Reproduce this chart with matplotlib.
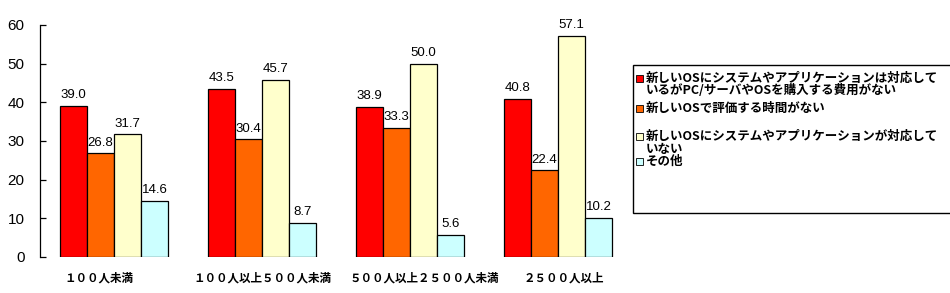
import matplotlib
matplotlib.use("Agg")
import matplotlib.pyplot as plt
import numpy as np
from matplotlib.patches import Rectangle

plt.rcParams['font.family'] = ['Liberation Sans', 'Noto Sans CJK JP', 'DejaVu Sans']

categories = ["１００人未満", "１００人以上５００人未満", "５００人以上２５００人未満", "２５００人以上"]
series_names = [
    "新しいOSにシステムやアプリケーションは対応して\nいるがPC/サーバやOSを購入する費用がない",
    "新しいOSで評価する時間がない",
    "新しいOSにシステムやアプリケーションが対応して\nいない",
    "その他",
]
values_cost = [39.0, 43.5, 38.9, 40.8]
values_time = [26.8, 30.4, 33.3, 22.4]
values_notsupported = [31.7, 45.7, 50.0, 57.1]
values_other = [14.6, 8.7, 5.6, 10.2]
series_values = [values_cost, values_time, values_notsupported, values_other]
colors = ["#FF0000", "#FF6600", "#FFFFCC", "#CCFFFF"]
yticks = [0, 10, 20, 30, 40, 50, 60]
label_shift = [-0.10, 0.0, 0.10, 0.04]

fig = plt.figure(figsize=(9.5, 2.93), dpi=100)
ax = fig.add_axes([40/950, 1-257/293, 592/950, 232/293])

x = np.arange(len(categories))
w = 0.184
for k, (vals, col) in enumerate(zip(series_values, colors)):
    bars = ax.bar(x + (k - 1.5) * w, vals, width=w, color=col,
                  edgecolor="black", linewidth=0.9)
    ax.bar_label(bars, labels=[f"{v:.1f}" for v in vals], padding=3.5,
                 fontsize=9.5, family=['Liberation Sans'])

ax.set_xlim(-0.5, 3.5)
ax.set_ylim(0, 60)
ax.set_yticks(yticks)
ax.tick_params(axis='y', direction='in', length=4, width=0.9, pad=11,
               labelsize=11)
ax.set_xticks([])
for s in ["top", "right", "bottom"]:
    ax.spines[s].set_visible(False)
ax.spines["left"].set_linewidth(0.9)

for i, cat in enumerate(categories):
    ax.annotate(cat, xy=(i + label_shift[i], 0), xycoords='data',
                xytext=(0, -21), textcoords='offset pixels',
                ha='center', va='center', fontsize=8.3, fontweight='bold',
                family=['Noto Sans CJK JP'], annotation_clip=False)

# legend (manual, drawn in figure pixels)
W, H = 950, 293
def fx(px):
    return px / W
def fy(py):
    return 1 - py / H

frame = Rectangle((fx(633), fy(213)), fx(1200) - fx(633), fy(65) - fy(213),
                  transform=fig.transFigure, facecolor='white',
                  edgecolor='black', linewidth=1.0, clip_on=False)
fig.patches.append(frame)

entry_rows = [78, 108, 136, 161]
for name, col, row in zip(series_names, colors, entry_rows):
    sq = Rectangle((fx(635.5), fy(row + 3.5)), fx(7), 7 / H,
                   transform=fig.transFigure, facecolor=col,
                   edgecolor='black', linewidth=0.6)
    fig.patches.append(sq)
    fig.text(fx(646), fy(row - 6.5), name, ha='left', va='top',
             fontsize=9, fontweight='bold', family=['Noto Sans CJK JP'],
             linespacing=1.0)

fig.savefig("out.png", dpi=100, facecolor='white')
